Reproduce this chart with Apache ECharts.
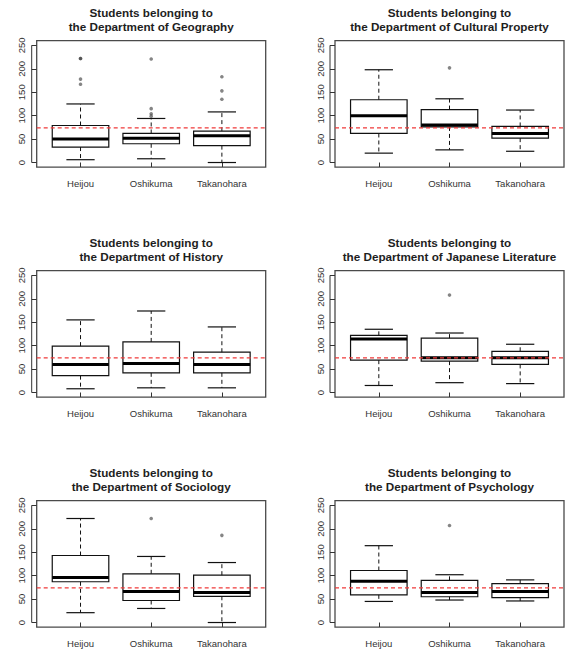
<!DOCTYPE html>
<html>
<head>
<meta charset="utf-8">
<script src="https://cdn.jsdelivr.net/npm/echarts@6/dist/echarts.min.js"></script>
<style>
html,body{margin:0;padding:0;background:#fff;}
#chart{width:565px;height:652px;}
</style>
</head>
<body>
<div id="chart"></div>
<script>
// ---- data ----
const groups = ['Heijou', 'Oshikuma', 'Takanohara'];
const departments = ['Geography', 'Cultural Property', 'History', 'Japanese Literature', 'Sociology', 'Psychology'];
const yTicks = [0, 50, 100, 150, 200, 250];
const referenceValue = 74;

// per group: [lower whisker, Q1, median, Q3, upper whisker]
const geographyStats = [[6, 33, 50, 79, 125], [8, 40, 52, 62, 94], [0, 36, 57, 67, 108]];
const geographyOutliers = [[222, 222, 178, 167], [221, 115, 104, 99], [183, 153, 135]];

const culturalStats = [[20, 62, 100, 134, 198], [27, 76, 80, 113, 136], [24, 52, 62, 77, 112]];
const culturalOutliers = [[], [202], []];

const historyStats = [[8, 36, 60, 99, 155], [10, 42, 62, 108, 174], [10, 42, 60, 86, 140]];
const historyOutliers = [[], [], []];

const japaneseStats = [[15, 69, 114, 122, 135], [21, 67, 74, 116, 127], [19, 60, 74, 88, 103]];
const japaneseOutliers = [[], [208], []];

const sociologyStats = [[21, 87, 96, 143, 222], [30, 47, 66, 104, 141], [0, 56, 64, 101, 128]];
const sociologyOutliers = [[], [222], [186]];

const psychologyStats = [[45, 59, 88, 111, 164], [48, 55, 64, 90, 102], [46, 53, 66, 83, 91]];
const psychologyOutliers = [[], [207], []];

const allStats = [geographyStats, culturalStats, historyStats, japaneseStats, sociologyStats, psychologyStats];
const allOutliers = [geographyOutliers, culturalOutliers, historyOutliers, japaneseOutliers, sociologyOutliers, psychologyOutliers];

// ---- layout ----
const FONT = "'Liberation Sans', Arial, Helvetica, sans-serif";
const X_MIN = 0.38, X_MAX = 3.62, Y_MIN = -10, Y_MAX = 260;
const COLS = [36.7, 335];
const ROWS = [40.7, 270.7, 500.7];
const W = 229, H = 126.5;

const grids = [], xAxes = [], yAxes = [], titles = [], series = [];

departments.forEach((dep, i) => {
  const c = i % 2, r = Math.floor(i / 2);
  grids.push({
    left: COLS[c], top: ROWS[r], width: W, height: H,
    show: true, borderColor: '#4a4a4a', borderWidth: 1.3, backgroundColor: 'transparent'
  });
  titles.push({
    text: 'Students belonging to\nthe Department of ' + dep,
    left: COLS[c] + W / 2, top: ROWS[r] - 35.4, textAlign: 'center', padding: 0,
    textStyle: { fontSize: 11.7, fontWeight: 'bold', lineHeight: 14, color: '#1e1e1e', fontFamily: FONT }
  });
  xAxes.push({
    type: 'value', gridIndex: i, min: X_MIN, max: X_MAX,
    axisLine: { show: false },
    splitLine: { show: false },
    axisTick: { show: true, customValues: [1, 2, 3], length: 4.5, lineStyle: { color: '#333', width: 1 } },
    axisLabel: {
      customValues: [1, 2, 3], margin: 11, fontSize: 9.5, color: '#333', fontFamily: FONT,
      formatter: v => groups[Math.round(v) - 1]
    }
  });
  yAxes.push({
    type: 'value', gridIndex: i, min: Y_MIN, max: Y_MAX, offset: 5,
    axisLine: { show: false },
    splitLine: { show: false },
    axisTick: { show: true, customValues: yTicks, inside: true, length: 5, lineStyle: { color: '#333', width: 1 } },
    axisLabel: { customValues: yTicks, rotate: 90, margin: 5, fontSize: 9.5, color: '#333', fontFamily: FONT }
  });

  const stats = allStats[i];
  series.push({
    type: 'custom', xAxisIndex: i, yAxisIndex: i, clip: false, z: 3,
    data: stats.map((s, k) => [k + 1].concat(s)),
    encode: { x: 0, y: [1, 2, 3, 4, 5] },
    renderItem: function (params, api) {
      const x = api.value(0);
      const lo = api.coord([x, api.value(1)]);
      const q1 = api.coord([x, api.value(2)]);
      const md = api.coord([x, api.value(3)]);
      const q3 = api.coord([x, api.value(4)]);
      const hi = api.coord([x, api.value(5)]);
      const bw = api.size([0.8, 0])[0];
      const cw = bw / 2;
      const cx = lo[0];
      const ink = '#111';
      const children = [
        { type: 'line', shape: { x1: cx, y1: q3[1], x2: cx, y2: hi[1] }, style: { stroke: ink, lineWidth: 1, lineDash: [4, 3] } },
        { type: 'line', shape: { x1: cx, y1: q1[1], x2: cx, y2: lo[1] }, style: { stroke: ink, lineWidth: 1, lineDash: [4, 3] } },
        { type: 'line', shape: { x1: cx - cw / 2, y1: hi[1], x2: cx + cw / 2, y2: hi[1] }, style: { stroke: ink, lineWidth: 1.2 } },
        { type: 'line', shape: { x1: cx - cw / 2, y1: lo[1], x2: cx + cw / 2, y2: lo[1] }, style: { stroke: ink, lineWidth: 1.2 } },
        { type: 'rect', shape: { x: cx - bw / 2, y: q3[1], width: bw, height: q1[1] - q3[1] }, style: { fill: 'none', stroke: ink, lineWidth: 1.2 } },
        { type: 'line', shape: { x1: cx - bw / 2, y1: md[1], x2: cx + bw / 2, y2: md[1] }, style: { stroke: '#000', lineWidth: 3 } }
      ];
      if (params.dataIndex === 0) {
        const a0 = api.coord([X_MIN, yTicks[0]]);
        const a1 = api.coord([X_MIN, yTicks[yTicks.length - 1]]);
        children.push({ type: 'line', shape: { x1: a0[0] - 5, y1: a0[1], x2: a1[0] - 5, y2: a1[1] }, style: { stroke: '#333', lineWidth: 1 } });
      }
      return { type: 'group', children: children };
    }
  });

  const pts = [];
  allOutliers[i].forEach((arr, k) => arr.forEach(v => pts.push([k + 1, v])));
  series.push({
    type: 'scatter', xAxisIndex: i, yAxisIndex: i, z: 4,
    symbol: 'circle', symbolSize: 3.6,
    itemStyle: { color: '#333', opacity: 0.6 },
    data: pts
  });

  series.push({
    type: 'line', xAxisIndex: i, yAxisIndex: i, z: 6,
    symbol: 'none', silent: true,
    lineStyle: { color: '#f03a3a', width: 1.3, type: [4, 3] },
    data: [[X_MIN, referenceValue], [X_MAX, referenceValue]]
  });
});

const chart = echarts.init(document.getElementById('chart'), null, { renderer: 'svg' });
chart.setOption({
  animation: false,
  backgroundColor: '#fff',
  title: titles,
  grid: grids,
  xAxis: xAxes,
  yAxis: yAxes,
  series: series
});
</script>
</body>
</html>
